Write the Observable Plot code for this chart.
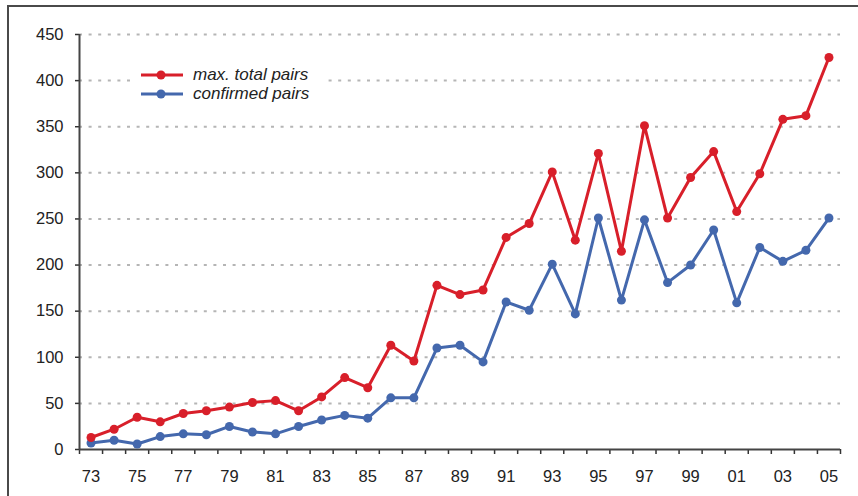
<!DOCTYPE html>
<html><head><meta charset="utf-8">
<script src="https://cdn.jsdelivr.net/npm/d3@7"></script>
<script src="https://cdn.jsdelivr.net/npm/@observablehq/plot@0.6"></script>
<style>
html,body{margin:0;padding:0;background:#fff;overflow:hidden}
#wrap{position:relative;width:858px;height:496px;font-family:"Liberation Sans",Arial,sans-serif}
#border{position:absolute;left:7px;top:5px;width:900px;height:600px;border-left:2px solid #4a4a4a;border-top:2px solid #4a4a4a;pointer-events:none}
#legend{position:absolute;left:132px;top:63px;width:196px;padding:2px 0 4px 8px;box-sizing:border-box;background:#fff;font-style:italic;font-size:17px;color:#222}
.row{display:flex;align-items:center;height:19px}
.row svg{margin-right:9px}
</style></head>
<body>
<div id="wrap"><div id="chart"></div><div id="legend"></div><div id="border"></div></div>
<script>
const years = [1973,1974,1975,1976,1977,1978,1979,1980,1981,1982,1983,1984,1985,1986,1987,1988,1989,1990,1991,1992,1993,1994,1995,1996,1997,1998,1999,2000,2001,2002,2003,2004,2005];
const maxTotalPairs = [13,22,35,30,39,42,46,51,53,42,57,78,67,113,96,178,168,173,230,245,301,227,321,215,351,251,295,323,258,299,358,362,425];
const confirmedPairs = [7,10,6,14,17,16,25,19,17,25,32,37,34,56,56,110,113,95,160,151,201,147,251,162,249,181,200,238,159,219,204,216,251];
const seriesNames = ["max. total pairs","confirmed pairs"];
const seriesColors = ["#d81f2a","#4468ad"];
const yTicks = [0,50,100,150,200,250,300,350,400,450];
const xLabelYears = [1973,1975,1977,1979,1981,1983,1985,1987,1989,1991,1993,1995,1997,1999,2001,2003,2005];

const rows = years.map((y,i)=>({year:y, a:maxTotalPairs[i], b:confirmedPairs[i]}));
const xDomain = [years[0]-0.5, years[years.length-1]+0.5];
const boundaries = years.map(y=>y-0.5).concat([xDomain[1]]);

const chart = Plot.plot({
  width:858, height:496,
  marginLeft:79, marginRight:18, marginTop:34, marginBottom:47,
  x:{domain:xDomain},
  y:{domain:[0,450]},
  style:{fontFamily:'"Liberation Sans",Arial,sans-serif', fontSize:"16.5px", color:"#222", background:"transparent", overflow:"visible"},
  marks:[
    Plot.gridY(yTicks.slice(1), {stroke:"#b5b5b5", strokeOpacity:1, strokeWidth:2, strokeDasharray:"3,6.6"}),
    Plot.axisY(yTicks, {label:null, tickSize:4, tickPadding:12, stroke:"#333", strokeWidth:1.5, fontSize:16.5}),
    Plot.axisX(boundaries, {label:null, tickSize:5, text:null, stroke:"#333", strokeWidth:1.5}),
    Plot.axisX(xLabelYears, {label:null, tickSize:0, tickPadding:21, fontSize:16.5, tickFormat:d=>String(d).slice(2)}),
    Plot.ruleY([0], {stroke:"#444", strokeWidth:2}),
    Plot.ruleX([xDomain[0]], {y1:0, y2:450, stroke:"#444", strokeWidth:2}),
    Plot.line(rows, {x:"year", y:"b", stroke:seriesColors[1], strokeWidth:3}),
    Plot.dot(rows, {x:"year", y:"b", fill:seriesColors[1], r:4.5}),
    Plot.line(rows, {x:"year", y:"a", stroke:seriesColors[0], strokeWidth:3}),
    Plot.dot(rows, {x:"year", y:"a", fill:seriesColors[0], r:4.5})
  ]
});
document.getElementById("chart").appendChild(chart);

const legend = document.getElementById("legend");
seriesNames.forEach((name,i)=>{
  const row = document.createElement("div");
  row.className = "row";
  row.innerHTML = `<svg width="44" height="10"><line x1="1" y1="5" x2="43" y2="5" stroke="${seriesColors[i]}" stroke-width="3"/><circle cx="21" cy="5" r="4.5" fill="${seriesColors[i]}"/></svg><span>${name}</span>`;
  legend.appendChild(row);
});
</script>
</body></html>
